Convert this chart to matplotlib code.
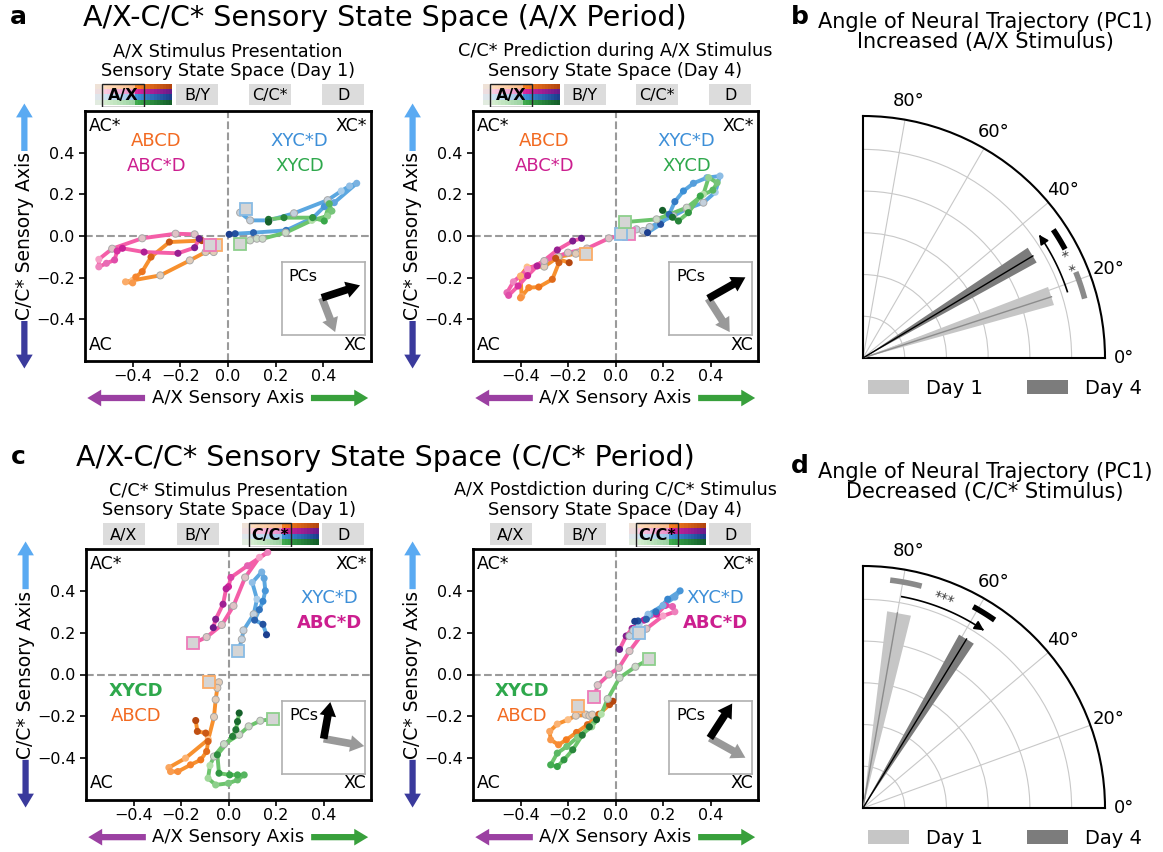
import numpy as np
import matplotlib
matplotlib.use("Agg")
import matplotlib.pyplot as plt
from matplotlib.colors import LinearSegmentedColormap, to_rgba
from matplotlib.patches import Rectangle, Patch

W, H = 1163, 852

# ---- trajectory data (first point = start square) ----
# panel a, left: A/X stimulus presentation, day 1
a1_abcd_x = [-0.05, -0.06, -0.094, -0.16, -0.284, -0.40, -0.43, -0.40, -0.387, -0.36, -0.323, -0.246, -0.11]
a1_abcd_y = [-0.045, -0.077, -0.077, -0.117, -0.189, -0.213, -0.22, -0.225, -0.197, -0.171, -0.101, -0.029, -0.022]
a1_abcsd_x = [-0.076, -0.14, -0.22, -0.36, -0.486, -0.542, -0.542, -0.51, -0.476, -0.465, -0.443, -0.352, -0.21, -0.14, -0.121]
a1_abcsd_y = [-0.045, 0.008, 0.011, -0.011, -0.061, -0.112, -0.148, -0.131, -0.115, -0.072, -0.059, -0.077, -0.083, -0.056, -0.013]
a1_xycsd_x = [0.075, 0.051, 0.093, 0.171, 0.277, 0.418, 0.475, 0.51, 0.54, 0.446, 0.404, 0.357, 0.244, 0.107, 0.03, 0.005]
a1_xycsd_y = [0.131, 0.112, 0.075, 0.075, 0.109, 0.172, 0.216, 0.24, 0.253, 0.16, 0.141, 0.088, 0.027, 0.016, 0.011, 0.008]
a1_xycd_x = [0.051, 0.093, 0.121, 0.145, 0.242, 0.352, 0.418, 0.436, 0.425, 0.404, 0.355, 0.235, 0.17, 0.17]
a1_xycd_y = [-0.04, -0.021, -0.013, -0.013, 0.016, 0.075, 0.096, 0.12, 0.155, 0.072, 0.088, 0.088, 0.08, 0.067]

# panel a, right: C/C* prediction during A/X, day 4
a4_abcd_x = [-0.124, -0.15, -0.167, -0.24, -0.30, -0.372, -0.40, -0.395, -0.40, -0.365, -0.323, -0.266, -0.238, -0.252, -0.195]
a4_abcd_y = [-0.088, -0.08, -0.085, -0.10, -0.147, -0.149, -0.192, -0.29, -0.297, -0.248, -0.245, -0.208, -0.128, -0.107, -0.128]
a4_abcsd_x = [0.057, -0.028, -0.12, -0.2, -0.3, -0.37, -0.43, -0.457, -0.45, -0.41, -0.37, -0.33, -0.245, -0.18, -0.143]
a4_abcsd_y = [0.011, -0.011, -0.06, -0.08, -0.12, -0.16, -0.22, -0.272, -0.285, -0.24, -0.19, -0.144, -0.067, -0.024, -0.011]
a4_xycsd_x = [0.024, 0.088, 0.116, 0.144, 0.243, 0.30, 0.37, 0.42, 0.44, 0.385, 0.328, 0.286, 0.25, 0.226, 0.19, 0.135]
a4_xycsd_y = [0.011, 0.032, 0.024, 0.043, 0.096, 0.13, 0.16, 0.21, 0.288, 0.28, 0.253, 0.216, 0.165, 0.104, 0.056, 0.016]
a4_xycd_x = [0.042, 0.173, 0.30, 0.37, 0.392, 0.428, 0.41, 0.357, 0.307, 0.265, 0.24, 0.198]
a4_xycd_y = [0.067, 0.08, 0.136, 0.2, 0.28, 0.256, 0.22, 0.192, 0.112, 0.072, 0.09, 0.123]

# panel c, left: C/C* stimulus presentation, day 1
c1_abcd_x = [-0.082, -0.04, -0.047, -0.054, -0.061, -0.085, -0.181, -0.251, -0.244, -0.213, -0.16, -0.117, -0.092, -0.086, -0.096, -0.131, -0.138]
c1_abcd_y = [-0.035, -0.037, -0.064, -0.12, -0.203, -0.31, -0.40, -0.445, -0.464, -0.464, -0.432, -0.408, -0.368, -0.32, -0.28, -0.272, -0.22]
c1_abcsd_x = [-0.148, -0.092, -0.028, 0.021, 0.07, 0.13, 0.165, 0.08, 0.01, 0.0, -0.01, -0.023, -0.054, -0.064]
c1_abcsd_y = [0.149, 0.179, 0.237, 0.328, 0.464, 0.56, 0.584, 0.52, 0.464, 0.42, 0.41, 0.336, 0.264, 0.224]
c1_xycsd_x = [0.042, 0.056, 0.063, 0.106, 0.12, 0.10, 0.14, 0.15, 0.155, 0.145, 0.13, 0.11, 0.145, 0.16]
c1_xycsd_y = [0.112, 0.168, 0.211, 0.288, 0.36, 0.44, 0.49, 0.46, 0.40, 0.35, 0.31, 0.26, 0.24, 0.19]
c1_xycd_x = [0.186, 0.134, 0.085, 0.045, -0.019, -0.061, -0.078, -0.086, -0.054, 0.0, 0.038, 0.066, 0.038, 0.005, -0.04, -0.047, 0.017, 0.031, 0.038, 0.045]
c1_xycd_y = [-0.213, -0.221, -0.248, -0.288, -0.333, -0.392, -0.435, -0.496, -0.528, -0.52, -0.504, -0.48, -0.48, -0.48, -0.472, -0.384, -0.296, -0.264, -0.225, -0.184]

# panel c, right: A/X postdiction during C/C*, day 4
c4_abcd_x = [-0.16, -0.125, -0.11, -0.098, -0.167, -0.2, -0.245, -0.277, -0.273, -0.24, -0.207, -0.164, -0.118, -0.07, -0.025, -0.011]
c4_abcd_y = [-0.149, -0.192, -0.197, -0.192, -0.197, -0.216, -0.237, -0.272, -0.312, -0.336, -0.312, -0.277, -0.24, -0.19, -0.144, -0.128]
c4_abcsd_x = [-0.089, -0.075, -0.028, 0.014, 0.059, 0.13, 0.2, 0.25, 0.24, 0.21, 0.173, 0.12, 0.07, 0.045, 0.017]
c4_abcsd_y = [-0.107, -0.051, 0.0, 0.032, 0.112, 0.219, 0.28, 0.3, 0.325, 0.33, 0.288, 0.26, 0.22, 0.184, 0.12]
c4_xycsd_x = [0.099, 0.059, 0.075, 0.10, 0.137, 0.2, 0.25, 0.272, 0.22, 0.17, 0.13, 0.095, 0.081]
c4_xycsd_y = [0.197, 0.184, 0.21, 0.24, 0.288, 0.33, 0.37, 0.4, 0.36, 0.3, 0.264, 0.256, 0.254]
c4_xycd_x = [0.141, 0.084, 0.017, -0.033, -0.06, -0.1, -0.16, -0.205, -0.245, -0.273, -0.245, -0.217, -0.18, -0.14, -0.11, -0.08]
c4_xycd_y = [0.072, 0.037, -0.016, -0.117, -0.19, -0.25, -0.30, -0.344, -0.376, -0.432, -0.44, -0.408, -0.36, -0.29, -0.25, -0.216]

# number of grey (pre-stimulus) points after the start square
a1_ngray = {"ABCD": 4, "ABC*D": 4, "XYC*D": 5, "XYCD": 4}
a4_ngray = {"ABCD": 4, "ABC*D": 4, "XYC*D": 6, "XYCD": 2}
c1_ngray = {"ABCD": 4, "ABC*D": 4, "XYC*D": 3, "XYCD": 5}
c4_ngray = {"ABCD": 4, "ABC*D": 5, "XYC*D": 2, "XYCD": 3}

periods = ["A/X", "B/Y", "C/C*", "D"]

# PC arrows in inset coords: origin, PC1 tip, PC2 tip
a1_pcs = [(0.48, 0.51), (0.94, 0.68), (0.64, 0.04)]
a4_pcs = [(0.47, 0.50), (0.92, 0.79), (0.73, 0.04)]
c1_pcs = [(0.50, 0.48), (0.58, 0.98), (0.99, 0.38)]
c4_pcs = [(0.49, 0.49), (0.76, 0.96), (0.92, 0.22)]

# angle data (deg): mean, band low, band high
b_day1 = [18.0, 15.5, 21.0]
b_day4 = [31.0, 28.8, 33.8]
b_day1_bar = [15.0, 22.0]
b_day4_bar = [28.3, 34.0]
b_arrow = [18.0, 35.0]
b_sig = ["*  *", 25.5]
d_day1 = [80.0, 76.0, 83.0]
d_day4 = [58.5, 56.0, 61.0]
d_day1_bar = [75.2, 83.2]
d_day4_bar = [55.0, 61.3]
d_arrow = [79.6, 55.0]
d_sig = ["***", 68.8]

styles = {
    "ABCD": dict(line="#f7902e", text="#f26a21", gray="#e2ccb8",
                 cmap=LinearSegmentedColormap.from_list("o", ["#fdbf86", "#f57c1f", "#b4460f"])),
    "ABC*D": dict(line="#f45ea8", text="#cc1e8f", gray="#e0c2c6",
                  cmap=LinearSegmentedColormap.from_list("p", ["#f7a1c8", "#d4239a", "#6a1b8a"])),
    "XYC*D": dict(line="#5ba7e0", text="#3d8fd8", gray="#c4d0dc",
                  cmap=LinearSegmentedColormap.from_list("b", ["#a9cdea", "#3b8fd6", "#1c3f8f"])),
    "XYCD": dict(line="#6cc46c", text="#2ea84c", gray="#cadbc6",
                 cmap=LinearSegmentedColormap.from_list("g", ["#b2e0a8", "#3aa84a", "#15602a"])),
}
order = ["ABCD", "ABC*D", "XYC*D", "XYCD"]


def rect(l, t, r, b):
    return [l / W, 1 - b / H, (r - l) / W, (b - t) / H]


def arrow(ax, start, end, color, width=4.5, hw=12, hl=10, coords="axes fraction"):
    ax.annotate("", xy=end, xytext=start, xycoords=coords, textcoords=coords,
                arrowprops=dict(facecolor=color, edgecolor="none", width=width,
                                headwidth=hw, headlength=hl, shrink=0),
                annotation_clip=False)


def trajectory(ax, xs, ys, ngray, key):
    st = styles[key]
    ax.plot(xs, ys, color=st["line"], lw=2.8, zorder=2, solid_capstyle="round")
    ncol = len(xs) - 1 - ngray
    cols = [st["gray"]] * ngray + [st["cmap"](v) for v in np.linspace(0, 1, ncol)]
    edges = ["#a8a8a8"] * ngray + ["none"] * ncol
    ax.scatter(xs[1:], ys[1:], s=26, c=cols, edgecolors=edges, linewidths=0.7, zorder=3)
    ax.plot(xs[0], ys[0], marker="s", ms=8, mfc="#d5d5d5", mec=st["cmap"](0.15),
            mew=1.3, zorder=4)


def header(rect_px, active):
    hx = fig.add_axes(rect(*rect_px))
    hx.set_xlim(0, 1)
    hx.set_ylim(-0.1, 1.05)
    hx.axis("off")
    lefts = [0.059, 0.318, 0.573, 0.829]
    bw = 0.147
    for i, (lab, x0) in enumerate(zip(periods, lefts)):
        hx.add_patch(Rectangle((x0, 0), bw, 1, facecolor="#dcdcdc", edgecolor="none"))
        if i == active:
            rows = []
            for key in order:
                st = styles[key]
                row = [np.array(to_rgba(st["gray"]))] * 3
                row += [np.array(st["cmap"](v)) for v in np.linspace(0, 1, 22)]
                rows.append(row)
            img = np.array(rows)
            img[:, :13, :3] = 0.55 * img[:, :13, :3] + 0.45
            hx.imshow(img, extent=(x0 - 0.024, x0 + 0.245, 0, 1), aspect="auto",
                      interpolation="nearest", zorder=2)
            hx.add_patch(Rectangle((x0, -0.08), bw, 1.08, facecolor="none",
                                   edgecolor="#222222", lw=1.0, zorder=4))
            hx.text(x0 + bw / 2, 0.45, lab, ha="center", va="center", fontsize=11.5,
                    fontweight="bold", zorder=5)
        else:
            hx.text(x0 + bw / 2, 0.45, lab, ha="center", va="center", fontsize=11.5)
    hx.set_xlim(0, 1)


def scatter_panel(ax_px, head_px, active, title, title_y, data, ngray, labels, pcs):
    ax = fig.add_axes(rect(*ax_px))
    ax.set_xlim(-0.6, 0.6)
    ax.set_ylim(-0.6, 0.6)
    ticks = [-0.4, -0.2, 0.0, 0.2, 0.4]
    ax.set_xticks(ticks)
    ax.set_yticks(ticks)
    ax.tick_params(labelsize=11.5, width=1.2, length=4)
    ax.tick_params(axis="x", pad=2)
    for sp in ax.spines.values():
        sp.set_linewidth(2)
    ax.axhline(0, color="#9a9a9a", ls="--", lw=1.5, zorder=1)
    ax.axvline(0, color="#9a9a9a", ls="--", lw=1.5, zorder=1)
    for key in order:
        xs, ys = data[key]
        trajectory(ax, xs, ys, ngray[key], key)
    for key, x, y, bold in labels:
        ax.text(x, y, key, color=styles[key]["text"], fontsize=13, ha="center",
                va="center", fontweight="bold" if bold else "normal")
    ax.text(0.015, 0.975, "AC*", transform=ax.transAxes, ha="left", va="top", fontsize=12.5)
    ax.text(0.985, 0.975, "XC*", transform=ax.transAxes, ha="right", va="top", fontsize=12.5)
    ax.text(0.015, 0.03, "AC", transform=ax.transAxes, ha="left", va="bottom", fontsize=12.5)
    ax.text(0.985, 0.03, "XC", transform=ax.transAxes, ha="right", va="bottom", fontsize=12.5)
    # PCs inset
    ins = ax.inset_axes([0.689, 0.104, 0.29, 0.292])
    ins.set_xlim(0, 1)
    ins.set_ylim(0, 1)
    ins.set_xticks([])
    ins.set_yticks([])
    for sp in ins.spines.values():
        sp.set_color("#b0b0b0")
        sp.set_linewidth(1.2)
    ins.text(0.08, 0.9, "PCs", ha="left", va="top", fontsize=11.5)
    o, p1, p2 = pcs
    arrow(ins, o, p2, "#999999", width=5.5, hw=12, hl=10, coords="data")
    arrow(ins, o, p1, "black", width=5.5, hw=12, hl=10, coords="data")
    # axis labels with arrows
    ax.text(-0.212, 0.5, "C/C* Sensory Axis", transform=ax.transAxes, rotation=90,
            ha="center", va="center", fontsize=13.5)
    arrow(ax, (-0.212, 0.84), (-0.212, 1.03), "#5aaaf2")
    arrow(ax, (-0.212, 0.16), (-0.212, -0.03), "#3a3a9c")
    ax.text(0.5, -0.148, "A/X Sensory Axis", transform=ax.transAxes,
            ha="center", va="center", fontsize=13)
    arrow(ax, (0.21, -0.148), (0.008, -0.148), "#9b40a2")
    arrow(ax, (0.79, -0.148), (0.99, -0.148), "#38a03c")
    header(head_px, active)
    cx = (ax_px[0] + ax_px[2]) / 2
    fig.text(cx / W, 1 - title_y / H, title, ha="center", va="center", fontsize=12.7,
             linespacing=1.1)
    return ax


def polar_panel(rect_px, day1, day4, bar1, bar4, arr, sig, title, title_y, leg_y):
    ax = fig.add_axes(rect(*rect_px), projection="polar")
    ax.set_thetamin(0)
    ax.set_thetamax(90)
    ax.set_rlim(0, 1.16)
    ax.set_rticks([0.2, 0.4, 0.6, 0.8, 1.0])
    ax.set_yticklabels([])
    ax.set_thetagrids([0, 20, 40, 60, 80], labels=["0°", "20°", "40°", "60°", "80°"],
                      fontsize=13)
    ax.grid(color="#c8c8c8", lw=0.8)
    for sp in ax.spines.values():
        sp.set_linewidth(1.5)
        sp.set_color("black")
    R = 0.95
    for d, fc, lc in [(day1, "#c6c6c6", "#8c8c8c"), (day4, "#7c7c7c", "black")]:
        m, lo, hi = np.deg2rad(d)
        ax.fill([0, lo, hi, 0], [0, R, R, 0], color=fc, lw=0, zorder=2)
        ax.plot([m, m], [0, R], color=lc, lw=1.0, zorder=3)
    for b, c in [(bar1, "#8a8a8a"), (bar4, "black")]:
        t = np.deg2rad(np.linspace(b[0], b[1], 20))
        ax.plot(t, np.full_like(t, 1.10), color=c, lw=4, solid_capstyle="butt", zorder=4)
    t = np.deg2rad(np.linspace(arr[0], arr[1], 40))
    ax.plot(t[:-2], np.full(38, 1.03), color="black", lw=1.2, zorder=4)
    ax.annotate("", xy=(t[-1], 1.03), xytext=(t[-4], 1.03),
                arrowprops=dict(arrowstyle="-|>", color="black", lw=1.2, mutation_scale=14),
                annotation_clip=False)
    ax.text(np.deg2rad(sig[1]), 1.075, sig[0], rotation=sig[1] - 90, ha="center",
            va="center", fontsize=10, color="#333333", rotation_mode="anchor")
    cx = 985
    fig.text(cx / W, 1 - title_y / H, title, ha="center", va="center", fontsize=15,
             linespacing=1.05)
    handles = [Patch(facecolor="#c6c6c6", label="Day 1"), Patch(facecolor="#7c7c7c", label="Day 4")]
    fig.legend(handles=handles, loc="center", bbox_to_anchor=(1005 / W, 1 - leg_y / H),
               ncol=2, frameon=False, fontsize=14, handlelength=2.1, handleheight=0.75,
               handletextpad=0.85, columnspacing=2.3)
    return ax


fig = plt.figure(figsize=(W / 100, H / 100), dpi=100)

scatter_panel((85, 111, 371, 361), (85, 83, 371, 107), 0,
              "A/X Stimulus Presentation\nSensory State Space (Day 1)", 61,
              {"ABCD": (a1_abcd_x, a1_abcd_y), "ABC*D": (a1_abcsd_x, a1_abcsd_y),
               "XYC*D": (a1_xycsd_x, a1_xycsd_y), "XYCD": (a1_xycd_x, a1_xycd_y)},
              a1_ngray,
              [("ABCD", -0.3, 0.456, False), ("ABC*D", -0.3, 0.336, False),
               ("XYC*D", 0.3, 0.456, False), ("XYCD", 0.3, 0.336, False)], a1_pcs)
scatter_panel((473, 111, 758, 361), (473, 83, 758, 107), 0,
              "C/C* Prediction during A/X Stimulus\nSensory State Space (Day 4)", 61,
              {"ABCD": (a4_abcd_x, a4_abcd_y), "ABC*D": (a4_abcsd_x, a4_abcsd_y),
               "XYC*D": (a4_xycsd_x, a4_xycsd_y), "XYCD": (a4_xycd_x, a4_xycd_y)},
              a4_ngray,
              [("ABCD", -0.3, 0.456, False), ("ABC*D", -0.3, 0.336, False),
               ("XYC*D", 0.3, 0.456, False), ("XYCD", 0.3, 0.336, False)], a4_pcs)
scatter_panel((86, 549, 371, 800), (86, 522, 371, 547), 2,
              "C/C* Stimulus Presentation\nSensory State Space (Day 1)", 500,
              {"ABCD": (c1_abcd_x, c1_abcd_y), "ABC*D": (c1_abcsd_x, c1_abcsd_y),
               "XYC*D": (c1_xycsd_x, c1_xycsd_y), "XYCD": (c1_xycd_x, c1_xycd_y)},
              c1_ngray,
              [("XYCD", -0.39, -0.08, True), ("ABCD", -0.39, -0.2, False),
               ("XYC*D", 0.425, 0.368, False), ("ABC*D", 0.425, 0.248, True)], c1_pcs)
scatter_panel((473, 549, 758, 800), (473, 522, 758, 547), 2,
              "A/X Postdiction during C/C* Stimulus\nSensory State Space (Day 4)", 500,
              {"ABCD": (c4_abcd_x, c4_abcd_y), "ABC*D": (c4_abcsd_x, c4_abcsd_y),
               "XYC*D": (c4_xycsd_x, c4_xycsd_y), "XYCD": (c4_xycd_x, c4_xycd_y)},
              c4_ngray,
              [("XYCD", -0.394, -0.08, True), ("ABCD", -0.394, -0.2, False),
               ("XYC*D", 0.42, 0.368, False), ("ABC*D", 0.42, 0.248, True)], c4_pcs)

polar_panel((863, 116, 1105, 358), b_day1, b_day4, b_day1_bar, b_day4_bar, b_arrow, b_sig,
            "Angle of Neural Trajectory (PC1)\nIncreased (A/X Stimulus)", 32, 388)
polar_panel((863, 566, 1105, 808), d_day1, d_day4, d_day1_bar, d_day4_bar, d_arrow, d_sig,
            "Angle of Neural Trajectory (PC1)\nDecreased (C/C* Stimulus)", 482, 838)

fig.text(385 / W, 1 - 18 / H, "A/X-C/C* Sensory State Space (A/X Period)", ha="center",
         va="center", fontsize=20.5)
fig.text(385 / W, 1 - 458 / H, "A/X-C/C* Sensory State Space (C/C* Period)", ha="center",
         va="center", fontsize=20.5)
for lab, x, y in [("a", 18, 17), ("c", 18, 457), ("b", 800, 17), ("d", 800, 466)]:
    fig.text(x / W, 1 - y / H, lab, ha="center", va="center", fontsize=18, fontweight="bold")

fig.savefig("out.png", dpi=100)
